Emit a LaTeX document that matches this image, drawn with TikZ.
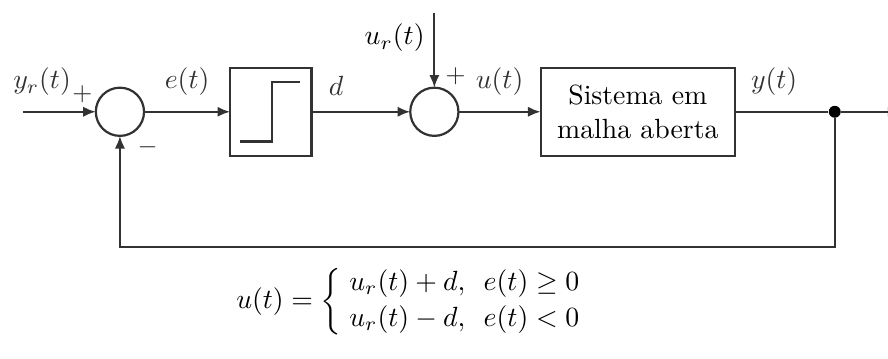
\documentclass[tikz,border=0pt]{standalone}
\usepackage{amsmath}
\usepackage{amssymb}
\usepackage{tikz}
\usetikzlibrary{arrows.meta, positioning}
\definecolor{linegray}{RGB}{50, 50, 50}
\tikzset{
  block/.style={
    rectangle, draw=linegray, line width=0.8pt,
    minimum height=1.11cm, align=center, outer sep=0pt
  },
  sumnode/.style={
    circle, draw=linegray, line width=0.8pt,
    minimum size=0.61cm, inner sep=0pt, outer sep=0pt
  },
  junction/.style={circle, fill=black, minimum size=4.3pt, inner sep=0pt},
  sign/.style={font=\small, text=linegray, inner sep=0pt},
  arr/.style={-{Latex[length=1.6mm, width=1.3mm]}, line width=0.8pt, color=linegray},
  wire/.style={line width=0.8pt, color=linegray},
}
\begin{document}
\begin{tikzpicture}[node distance=1.1cm]
  \useasboundingbox (0,0) rectangle (11.24,4.54);

  % Blocks
  \node[sumnode] (sum1) at (1.518,3.125) {};
  \node[block, minimum width=1.03cm, right=1.09cm of sum1] (relay) {};
  \node[sumnode, right=1.25cm of relay] (sum2) {};
  \node[block, minimum width=2.46cm, right=1.04cm of sum2] (plant) {Sistema em\\ malha aberta};
  \node[junction, right=1.18cm of plant] (split) {};

  % Free ends
  \coordinate[left=0.92cm of sum1] (ref);
  \coordinate[above=0.95cm of sum2] (urin);
  \coordinate[right=0.75cm of split] (out);
  \coordinate[below=1.63cm of split] (fb);

  % Relay characteristic
  \draw[wire] ([shift={(0.13,0.18)}]relay.south west) -- ++(0.4,0)
    -- ++(0,0.75) -- ++(0.36,0);

  % Arrows
  \draw[arr] (ref) -- node[above, pos=0.26, yshift=2pt] {$y_r(t)$} (sum1);
  \draw[arr] (sum1) -- node[above, yshift=2pt] {$e(t)$} (relay);
  \draw[arr] (relay) -- node[above, pos=0.25, yshift=2pt] {$d$} (sum2);
  \draw[arr] (urin) -- (sum2);
  \draw[arr] (sum2) -- node[above, yshift=2pt] {$u(t)$} (plant);
  \draw[wire] (plant) -- node[above, pos=0.42, yshift=2pt] {$y(t)$} (split);
  \draw[arr] (split) -- (out);
  \draw[arr] (split) -- (fb) -| (sum1.south);

  % Signs
  \node[sign] at ([shift={(-0.17,0.22)}]sum1.west) {$+$};
  \node[sign] at ([shift={(0.35,-0.15)}]sum1.south) {$-$};
  \node[sign] at ([shift={(0.27,0.14)}]sum2.north) {$+$};
  \node[left=0cm of urin, yshift=-0.32cm] (urlab) {$u_r(t)$};

  % Switching law
  \node (law) at (5.27,0.72) {$u(t)=\left\{\;\begin{array}{@{}l}
      u_r(t)+d,\ \,e(t)\geq 0\\[1pt]
      u_r(t)-d,\ \,e(t)<0
    \end{array}\right.$};

\end{tikzpicture}
\end{document}
